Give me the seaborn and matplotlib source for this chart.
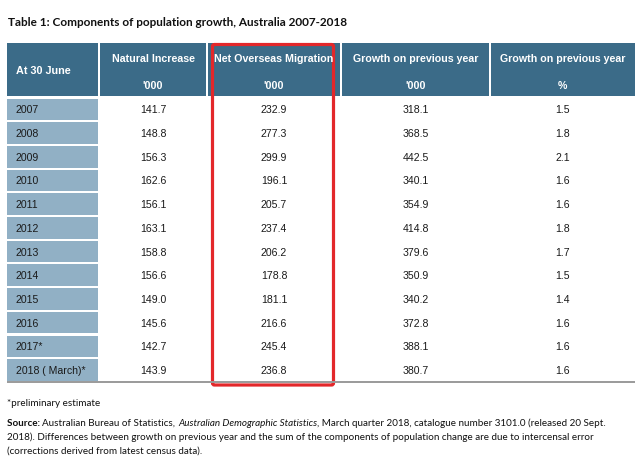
import matplotlib
matplotlib.use("Agg")
import matplotlib.pyplot as plt
import seaborn as sns
import pandas as pd
from matplotlib.patches import Rectangle, FancyBboxPatch

# ===== data =====
years = ["2007", "2008", "2009", "2010", "2011", "2012", "2013", "2014",
         "2015", "2016", "2017*", "2018 ( March)*"]
natural_increase = [141.7, 148.8, 156.3, 162.6, 156.1, 163.1, 158.8, 156.6, 149.0, 145.6, 142.7, 143.9]
net_overseas = [232.9, 277.3, 299.9, 196.1, 205.7, 237.4, 206.2, 178.8, 181.1, 216.6, 245.4, 236.8]
growth_000 = [318.1, 368.5, 442.5, 340.1, 354.9, 414.8, 379.6, 350.9, 340.2, 372.8, 388.1, 380.7]
growth_pct = [1.5, 1.8, 2.1, 1.6, 1.6, 1.8, 1.7, 1.5, 1.4, 1.6, 1.6, 1.6]

first_header = "At 30 June"
col_headers = ["Natural Increase", "Net Overseas Migration", "Growth on previous year", "Growth on previous year"]
col_units = ["'000", "'000", "'000", "%"]

title = "Table 1: Components of population growth, Australia 2007-2018"
footnote = "*preliminary estimate"

df = pd.DataFrame({
    "year": years,
    "ni": natural_increase,
    "nom": net_overseas,
    "g000": growth_000,
    "gpct": growth_pct,
})

sns.set_theme(style="white")
plt.rcParams['font.family'] = ['Liberation Sans', 'DejaVu Sans']

HEAD = "#3b6b88"
LABEL = "#91b0c5"
TXT = "#1a1a1a"
CAL = ['Lato', 'DejaVu Sans']
NOTE_FS = 7.1

fig = plt.figure(figsize=(6.42, 4.64), dpi=100)
ax = fig.add_axes([0, 0, 1, 1])
ax.set_xlim(0, 642)
ax.set_ylim(464, 0)
ax.axis("off")

# column edges (px) and row grid
edges = [7, 99, 207, 341, 490, 635]
head_top, head_bot = 44, 97
row_top0, row_h = 98.5, 23.7

# header blocks
for i in range(5):
    x0, x1 = edges[i], edges[i + 1]
    ax.add_patch(Rectangle((x0 + (1 if i else 0), head_top), x1 - x0 - (1 if i else 0) - (1 if i < 4 else 0),
                           head_bot - head_top, facecolor=HEAD, edgecolor="none"))
ax.text(16, 71.5, first_header, color="white", fontsize=7.8, fontweight="bold", va="center", ha="left")
for i, (h, u) in enumerate(zip(col_headers, col_units)):
    cx = (edges[i + 1] + edges[i + 2]) / 2
    ax.text(cx, 59, h, color="white", fontsize=7.7, fontweight="bold", va="center", ha="center")
    ax.text(cx, 86, u, color="white", fontsize=7.7, fontweight="bold", va="center", ha="center")

# body rows
cols = ["ni", "nom", "g000", "gpct"]
for r, row in df.iterrows():
    top = row_top0 + r * row_h
    ax.add_patch(Rectangle((edges[0], top + 1), edges[1] - edges[0] - 1, row_h - 2,
                           facecolor=LABEL, edgecolor="none"))
    cy = top + row_h / 2
    ax.text(16, cy, row["year"], color=TXT, fontsize=7.6, va="center", ha="left")
    for j, c in enumerate(cols):
        cx = (edges[j + 1] + edges[j + 2]) / 2
        ax.text(cx, cy, f"{row[c]:.1f}", color=TXT, fontsize=7.6, va="center", ha="center")

bottom = row_top0 + len(df) * row_h
ax.plot([edges[0], edges[-1]], [bottom, bottom], color="#9a9a9a", lw=1.4, solid_capstyle="butt")

# red highlight box around Net Overseas Migration
ax.add_patch(FancyBboxPatch((212.5, 45.5), 121, 340.5,
                            boxstyle="round,pad=0,rounding_size=2",
                            facecolor="none", edgecolor="#e3272a", lw=2.3))

# title and notes
ax.text(8, 22, title, fontsize=8.5, fontweight="bold", family=CAL, va="center", ha="left", color="#111111")
ax.text(7, 406, footnote, fontsize=NOTE_FS, family=CAL, va="baseline", ha="left", color="#111111")

renderer = fig.canvas.get_renderer()


def advance(s, style, weight):
    # width incl. trailing spaces: measure with a bar appended
    ws = []
    for txt in (s + "|", "|"):
        t = ax.text(0, 0, txt, fontsize=NOTE_FS, family=CAL, style=style, fontweight=weight)
        ws.append(t.get_window_extent(renderer).width)
        t.remove()
    return ws[0] - ws[1]


def run_line(y, pieces):
    x = 7
    for s, style, weight in pieces:
        ax.text(x, y, s, fontsize=NOTE_FS, family=CAL, style=style, fontweight=weight,
                va="baseline", ha="left", color="#111111")
        x += advance(s, style, weight)


run_line(426, [("Source: ", "normal", "bold"),
               ("Australian Bureau of Statistics, ", "normal", "normal"),
               ("Australian Demographic Statistics", "italic", "normal"),
               (", March quarter 2018, catalogue number 3101.0 (released 20 Sept.", "normal", "normal")])
run_line(440, [("2018). Differences between growth on previous year and the sum of the components "
                "of population change are due to intercensal error", "normal", "normal")])
run_line(454, [("(corrections derived from latest census data).", "normal", "normal")])

fig.savefig("out.png", dpi=100)
